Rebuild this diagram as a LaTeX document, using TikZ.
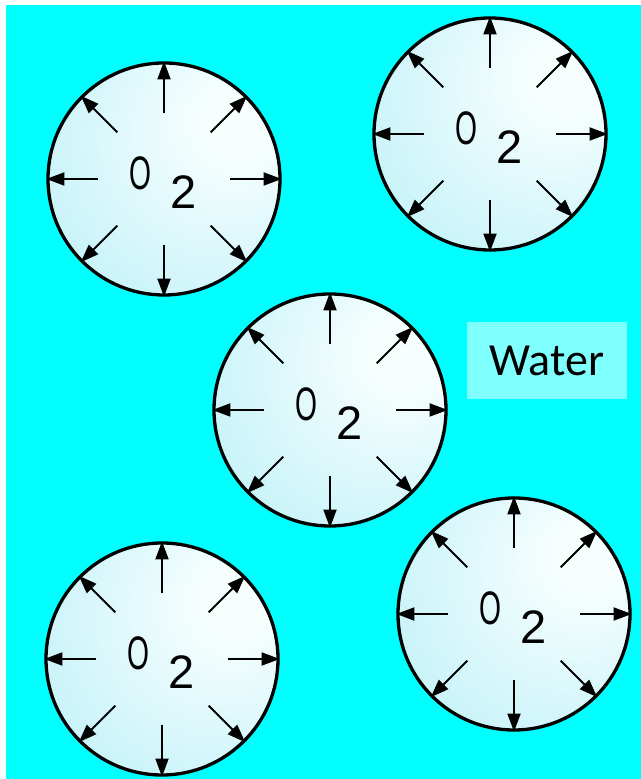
\documentclass[tikz,border=0pt]{standalone}
\usepackage{fontspec}
\setmainfont{Liberation Sans}
\newfontfamily\waterfont{Carlito}
\usetikzlibrary{arrows.meta,calc}
\definecolor{waterCyan}{HTML}{00FFFF}
\definecolor{waterLabel}{HTML}{80FFFF}
\definecolor{bubbleEdge}{HTML}{AEEDF6}
\definecolor{bubbleCore}{HTML}{F6FEFE}
\pgfdeclareradialshading{bubbleGlow}{\pgfpoint{18bp}{14bp}}{%
  color(0bp)=(bubbleCore); color(8bp)=(bubbleCore);
  color(55bp)=(bubbleEdge); color(80bp)=(bubbleEdge)}
\tikzset{
  bubble/.style={
    circle,
    draw=black,
    line width=3.3bp,
    minimum size=232bp,
    inner sep=0pt,
    shading=bubbleGlow
  },
  gasArrow/.style={-{Triangle[length=18bp,width=13bp]}, line width=1.8bp, black},
  gasLetter/.style={font=\fontsize{47bp}{50bp}\selectfont, inner sep=0pt},
  labelBox/.style={
    fill=waterLabel,
    minimum width=160bp,
    minimum height=77bp,
    inner sep=0pt,
    font=\waterfont\fontsize{46bp}{50bp}\selectfont
  }
}
\begin{document}
\begin{tikzpicture}[x=1bp,y=1bp]
  \useasboundingbox (0,0) rectangle (641,779);
  \fill[waterCyan] (6,0) rectangle (641,774);

  \foreach \name/\px/\py in {topLeft/164/600, topRight/490/645,
      middle/330/369, bottomLeft/162/120, bottomRight/514/165} {
    \node[bubble] (\name) at (\px,\py) {};
    \foreach \ang in {0,45,...,315}
      \draw[gasArrow] ($(\name)+(\ang:66)$) -- (\name.\ang);
    \node[gasLetter, xscale=0.6] (\name-sym) at ($(\name)+(-24,6)$) {O};
    \node[gasLetter] (\name-sub) at ($(\name)+(20,-13)$) {2};
  }

  \node[labelBox] (water) at (547,418.5) {Water};
\end{tikzpicture}
\end{document}
